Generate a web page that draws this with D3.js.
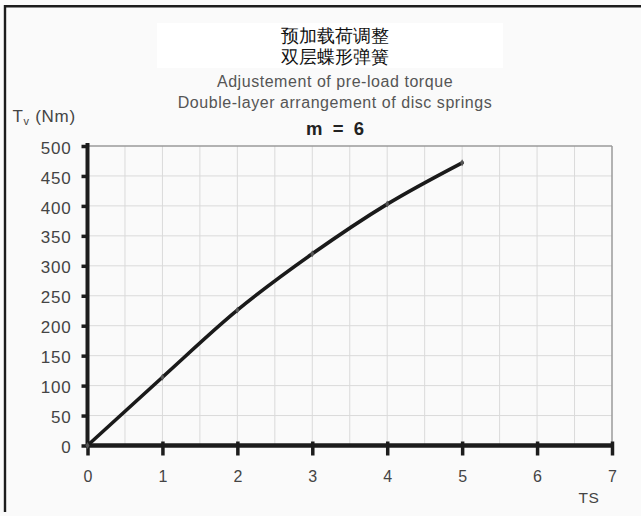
<!DOCTYPE html>
<html>
<head>
<meta charset="utf-8">
<script src="https://cdn.jsdelivr.net/npm/d3@7/dist/d3.min.js"></script>
<style>
  body { margin: 0; background: #fafafa; }
  text { font-family: "Liberation Sans", Arial, sans-serif; }
</style>
</head>
<body>
<div class="chart"></div>
<script>
// data
const ts = [0, 1, 2, 3, 4, 5]
const torque = [0, 114, 226, 320, 403, 472]
const xTicks = [0, 1, 2, 3, 4, 5, 6, 7]
const yTicks = [0, 50, 100, 150, 200, 250, 300, 350, 400, 450, 500]
const titleCn = ["预加载荷调整", "双层蝶形弹簧"]
const titleEn = ["Adjustement of pre-load torque", "Double-layer arrangement of disc springs"]

var width = 641
var height = 516

var svg = d3.select('.chart')
  .append('svg')
  .attr('width', width)
  .attr('height', height)

svg.append('rect')
  .attr('width', width).attr('height', height)
  .attr('fill', '#fafafa')

// outer frame (only top + left show)
svg.append('line').attr('x1', 4).attr('x2', width).attr('y1', 6.2).attr('y2', 6.2)
  .attr('stroke', '#1c1c1c').attr('stroke-width', 2.6)
svg.append('line').attr('x1', 5).attr('x2', 5).attr('y1', 5).attr('y2', 512)
  .attr('stroke', '#1c1c1c').attr('stroke-width', 2.4)

const x = d3.scaleLinear().domain([0, 7]).range([87.5, 612])
const y = d3.scaleLinear().domain([0, 500]).range([445.5, 146])

// white box behind chinese title
svg.append('rect')
  .attr('x', 157).attr('y', 23).attr('width', 346).attr('height', 45)
  .attr('fill', '#ffffff')

const cx = 335
svg.selectAll('.cn')
  .data(titleCn)
  .enter()
  .append('text')
  .attr('x', cx)
  .attr('y', (d, i) => 41.5 + i * 21)
  .attr('text-anchor', 'middle')
  .attr('font-family', '"Noto Sans CJK SC", sans-serif')
  .attr('font-size', 17.5)
  .attr('fill', '#111')
  .text(d => d)

svg.selectAll('.en')
  .data(titleEn)
  .enter()
  .append('text')
  .attr('x', cx)
  .attr('y', (d, i) => 87.3 + i * 20.3)
  .attr('text-anchor', 'middle')
  .attr('font-size', 16)
  .attr('letter-spacing', 0.55)
  .attr('fill', '#555')
  .text(d => d)

svg.append('text')
  .attr('x', cx).attr('y', 135)
  .attr('text-anchor', 'middle')
  .attr('font-size', 18.5)
  .attr('font-weight', 'bold')
  .attr('fill', '#222')
  .style('white-space', 'pre')
  .text('m  =  6')

// y axis title with subscript
const yt = svg.append('text')
  .attr('x', 12.5).attr('y', 121.7)
  .attr('font-size', 17)
  .attr('letter-spacing', 0.7)
  .attr('fill', '#444')
yt.append('tspan').text('T')
yt.append('tspan').attr('font-size', 11).attr('dy', 3).text('v')
yt.append('tspan').attr('dy', -3).text(' (Nm)')

// grid
const xGrid = d3.range(0.5, 7, 0.5)
svg.selectAll('.vgrid')
  .data(xGrid)
  .enter()
  .append('line')
  .attr('x1', d => x(d)).attr('x2', d => x(d))
  .attr('y1', y(0)).attr('y2', y(500))
  .attr('stroke', '#dadada').attr('stroke-width', 1)

svg.selectAll('.hgrid')
  .data(yTicks.slice(1, -1))
  .enter()
  .append('line')
  .attr('x1', x(0)).attr('x2', x(7))
  .attr('y1', d => y(d)).attr('y2', d => y(d))
  .attr('stroke', '#dadada').attr('stroke-width', 1)

// plot border top/right
svg.append('line').attr('x1', x(0)).attr('x2', x(7)).attr('y1', y(500)).attr('y2', y(500))
  .attr('stroke', '#9a9a9a').attr('stroke-width', 1.5)
svg.append('line').attr('x1', x(7)).attr('x2', x(7)).attr('y1', y(500)).attr('y2', y(0))
  .attr('stroke', '#9a9a9a').attr('stroke-width', 1.5)

// y axis
const yAxis = d3.axisLeft(y).tickValues(yTicks).tickSize(6).tickPadding(10)
const gy = svg.append('g').attr('transform', `translate(${x(0)},0)`).call(yAxis)
gy.select('.domain').attr('stroke', '#1c1c1c').attr('stroke-width', 4)
  .attr('d', `M0,${y(0)}V${y(500) - 3}`)
gy.selectAll('.tick line').attr('stroke', '#1c1c1c').attr('stroke-width', 3.5)
gy.selectAll('.tick text')
  .attr('font-size', 17).attr('fill', '#444')
  .attr('letter-spacing', 0.8)
  .attr('font-family', '"Liberation Sans", Arial, sans-serif')
  .attr('dy', '0.42em')

// x axis
const xAxis = d3.axisBottom(x).tickValues(xTicks).tickFormat(d3.format('d')).tickSize(10).tickPadding(15)
const gx = svg.append('g').attr('transform', `translate(0,${y(0)})`).call(xAxis)
gx.select('.domain').attr('stroke', '#1c1c1c').attr('stroke-width', 4.5)
  .attr('d', `M${x(0)},0H${x(7)}`)
gx.selectAll('.tick line').attr('stroke', '#1c1c1c').attr('stroke-width', 3.5)
  .attr('y1', -4)
gx.selectAll('.tick text')
  .attr('font-size', 16).attr('fill', '#444')
  .attr('font-family', '"Liberation Sans", Arial, sans-serif')

svg.append('text')
  .attr('x', 589).attr('y', 503)
  .attr('text-anchor', 'middle')
  .attr('font-size', 15.5)
  .attr('letter-spacing', 0.5)
  .attr('fill', '#444')
  .text('TS')

// curve
const pts = ts.map((t, i) => ({t: t, v: torque[i]}))
const line = d3.line()
  .x(d => x(d.t))
  .y(d => y(d.v))
  .curve(d3.curveMonotoneX)

svg.append('path')
  .datum(pts)
  .attr('d', line)
  .attr('fill', 'none')
  .attr('stroke', '#1a1a1a')
  .attr('stroke-width', 3.6)
  .attr('stroke-linecap', 'round')

svg.selectAll('.pt')
  .data(pts)
  .enter()
  .append('path')
  .attr('transform', d => `translate(${x(d.t)},${y(d.v)})`)
  .attr('d', d3.symbol().type(d3.symbolDiamond).size(14))
  .attr('fill', '#555')
</script>
</body>
</html>
